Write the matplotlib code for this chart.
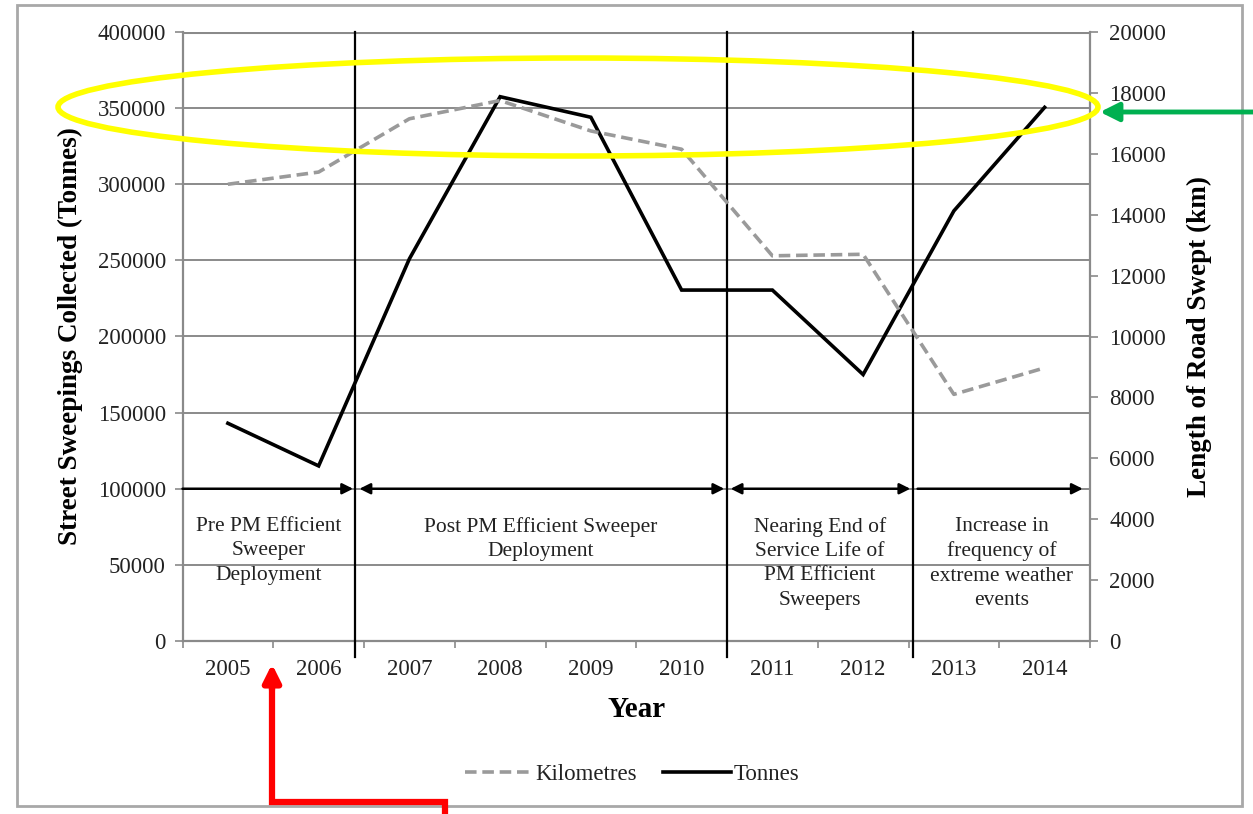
import matplotlib.pyplot as plt
from matplotlib.patches import Ellipse, Rectangle
from matplotlib.lines import Line2D
import numpy as np

plt.rcParams['font.family'] = ['Liberation Serif', 'DejaVu Serif']

# data
years = ['2005', '2006', '2007', '2008', '2009', '2010', '2011', '2012', '2013', '2014']
tonnes = [143000, 115000, 251000, 357500, 344000, 230500, 230500, 175000, 282500, 350500]
kilometres = [15000, 15400, 17150, 17750, 16750, 16150, 12650, 12700, 8100, 8970]

# period labels and where the hand-drawn separators sit (category units)
period_text = ['Pre PM Efficient\nSweeper\nDeployment',
               'Post PM Efficient Sweeper\nDeployment',
               'Nearing End of\nService Life of\nPM Efficient\nSweepers',
               'Increase in\nfrequency of\nextreme weather\nevents']
separators = [1.4, 5.5, 7.55]

W, H = 1253, 814
fig = plt.figure(figsize=(W / 100, H / 100), dpi=100)
ax = fig.add_axes([182.5 / W, 1 - 641 / H, 907.5 / W, 609 / H])
ax2 = ax.twinx()

x = np.arange(len(years))
grid_c = '#8a8a8a'
txt_c = '#222222'
tick_fs = 16.5

# left axis: tonnes
ax.set_xlim(-0.5, len(years) - 0.5)
ax.set_ylim(0, 400000)
ax.set_yticks(np.arange(0, 400001, 50000))
ax.set_yticklabels([str(v) for v in range(0, 400001, 50000)])
for v in range(50000, 400001, 50000):
    ax.axhline(v, color=grid_c, lw=1.4 if v < 400000 else 2.2, zorder=1)

ax.set_xticks(x)
ax.set_xticklabels(years)
ax.set_xticks(np.arange(-0.5, len(years)), minor=True)
ax.tick_params(axis='x', which='major', length=0, pad=13, labelsize=tick_fs, colors=txt_c)
ax.tick_params(axis='x', which='minor', length=5, width=1.2, color=grid_c, direction='out')
ax.tick_params(axis='y', length=6, width=1.2, color=grid_c, labelsize=tick_fs, pad=6, labelcolor=txt_c)

for s in ['top', 'right']:
    ax.spines[s].set_visible(False)
for s in ['left', 'bottom']:
    ax.spines[s].set_color(grid_c)
    ax.spines[s].set_linewidth(1.6)

ax.plot(x, tonnes, color='black', lw=2.6, zorder=4, solid_joinstyle='miter')

# right axis: kilometres
ax2.set_ylim(0, 20000)
ax2.set_yticks(np.arange(0, 20001, 2000))
ax2.tick_params(axis='y', length=6, width=1.2, color=grid_c, labelsize=tick_fs, pad=8, labelcolor=txt_c)
for s in ['top', 'left', 'bottom']:
    ax2.spines[s].set_visible(False)
ax2.spines['right'].set_color(grid_c)
ax2.spines['right'].set_linewidth(1.6)
ax2.plot(x, kilometres, color='#9a9a9a', lw=2.6, dashes=(3.2, 1.6), zorder=3)

# axis labels
ax.set_ylabel('Street Sweepings Collected (Tonnes)', fontsize=19.5, fontweight='bold')
ax.yaxis.set_label_coords(-0.11, 0.5)
ax2.set_ylabel('Length of Road Swept (km)', fontsize=19.5, fontweight='bold')
ax2.yaxis.set_label_coords(1.107, 0.5)
ax.set_xlabel('Year', fontsize=21, fontweight='bold')
ax.xaxis.set_label_coords(0.5008, -0.09)

# separators and period arrows
for sx in separators:
    ax.plot([sx, sx], [400000, -10500], color='black', lw=1.6, clip_on=False, zorder=5)

arrow_kw = dict(color='black', lw=1.8, shrinkA=0, shrinkB=0, mutation_scale=16)
spans = [(-0.5, 1.38, '-|>'), (1.45, 5.47, '<|-|>'), (5.54, 7.52, '<|-|>'), (7.6, 9.42, '-|>')]
for a, b, style in spans:
    ax.annotate('', xy=(b, 100000), xytext=(a, 100000),
                arrowprops=dict(arrowstyle=style, **arrow_kw), zorder=5)

bounds = [-0.5] + separators + [9.5]
for i, txt in enumerate(period_text):
    cx = (bounds[i] + bounds[i + 1]) / 2
    ax.text(cx, 81500, txt, ha='center', va='top', fontsize=15.5, color=txt_c,
            linespacing=1.38, zorder=6)

# legend
handles = [Line2D([], [], color='#9a9a9a', lw=2.6, dashes=(3.2, 1.6)),
           Line2D([], [], color='black', lw=2.6)]
fig.legend(handles, ['Kilometres', 'Tonnes'], loc='center', bbox_to_anchor=(632 / W, 1 - 774 / H),
           ncol=2, frameon=False, fontsize=16.5, handlelength=3.0, handletextpad=0.1,
           columnspacing=1.1, labelcolor=txt_c)

# overlay in pixel space: border, highlight ellipse and arrows
ov = fig.add_axes([0, 0, 1, 1], zorder=10)
ov.set_xlim(0, W)
ov.set_ylim(H, 0)
ov.axis('off')
ov.patch.set_alpha(0)
ov.add_patch(Rectangle((17, 5), 1225, 801, fill=False, ec='#a8a8a8', lw=2))
ov.add_patch(Ellipse((578, 107), 1040, 98, fill=False, ec='#ffff00', lw=4))
ov.annotate('', xy=(1100, 112), xytext=(1253, 112),
            arrowprops=dict(arrowstyle='-|>', color='#00b050', lw=3.5, mutation_scale=28,
                            shrinkA=0, shrinkB=0))
ov.plot([445, 445, 272, 272], [814, 802, 802, 680], color='#ff0000', lw=4.5,
        solid_joinstyle='miter', solid_capstyle='butt')
ov.annotate('', xy=(272, 664), xytext=(272, 690),
            arrowprops=dict(arrowstyle='-|>', color='#ff0000', lw=4.5, mutation_scale=26,
                            shrinkA=0, shrinkB=0))

fig.savefig('out.png', dpi=100)
